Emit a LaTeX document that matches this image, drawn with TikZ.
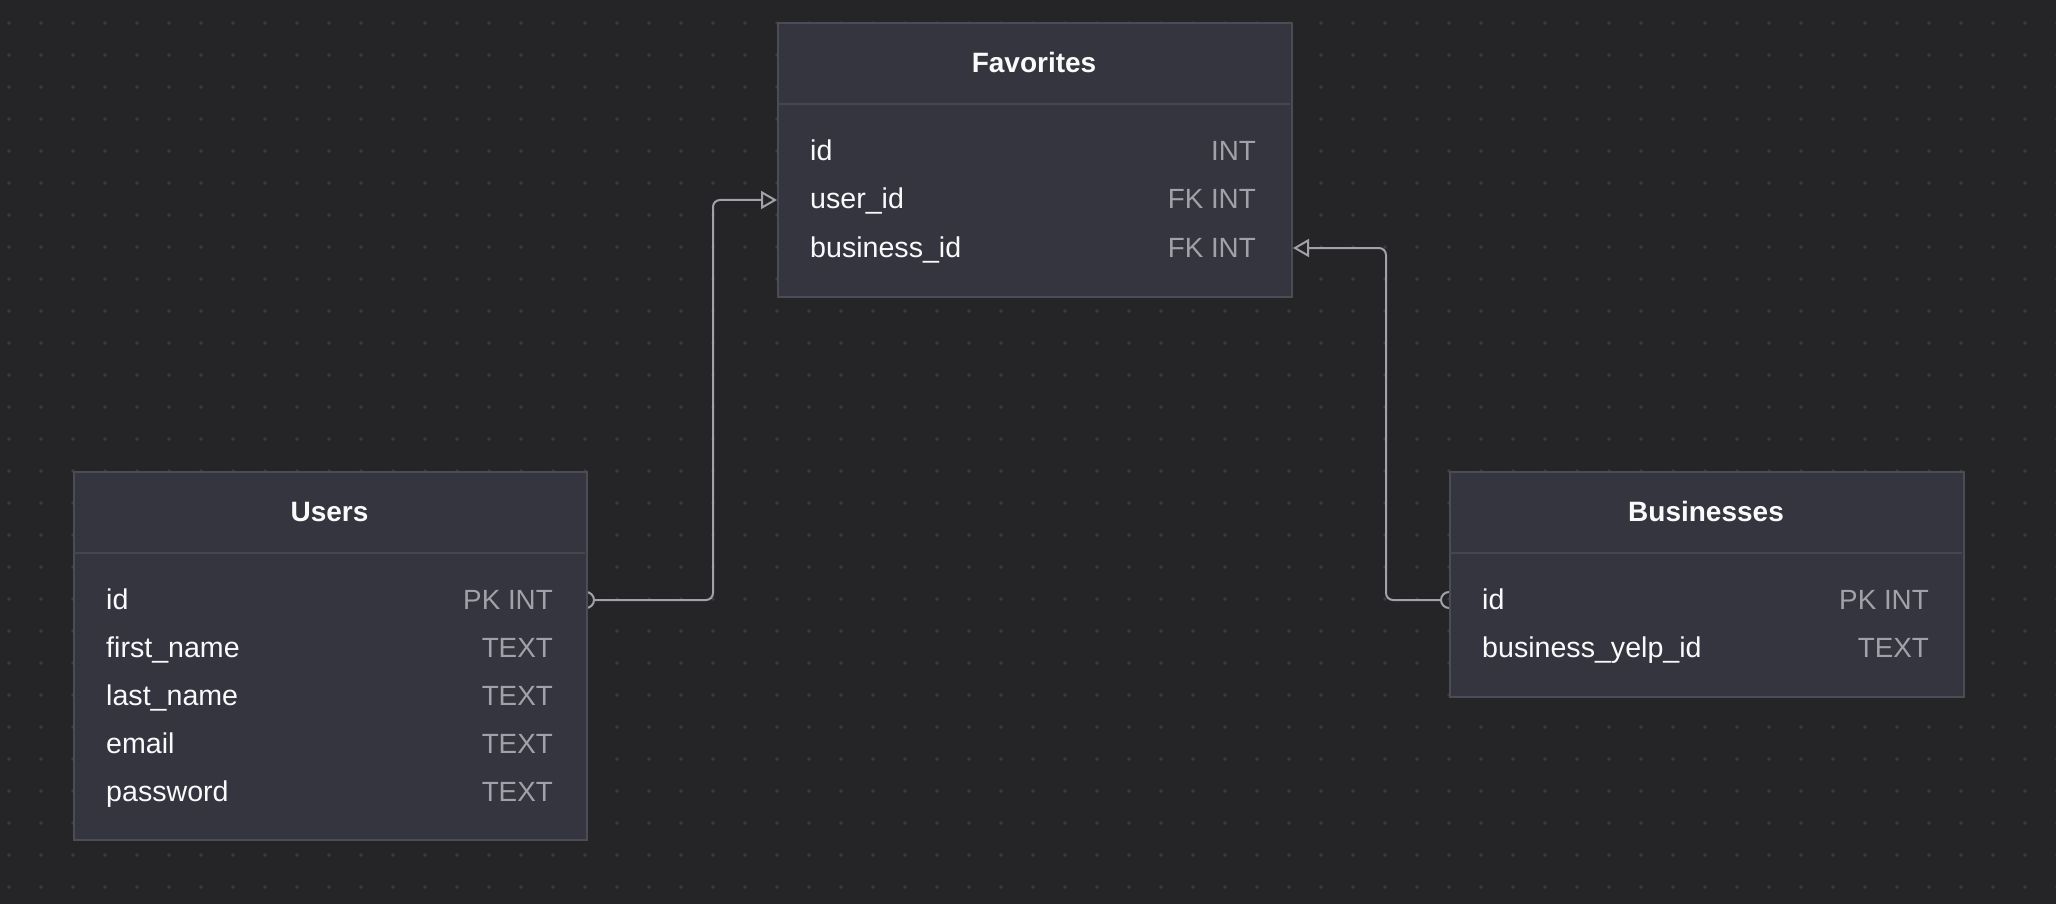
\documentclass[tikz,border=0pt]{standalone}
\usepackage{fontspec}
\setmainfont{Liberation Sans}
\usetikzlibrary{arrows.meta}
\definecolor{bg}{HTML}{252527}
\definecolor{dotc}{HTML}{3B3B45}
\definecolor{boxfill}{HTML}{35353F}
\definecolor{boxline}{HTML}{4C4C56}
\definecolor{sepline}{HTML}{46464F}
\definecolor{namec}{HTML}{FAFAFA}
\definecolor{typec}{HTML}{A1A1AA}
\definecolor{linkc}{HTML}{A1A1AA}
\begin{document}
\begin{tikzpicture}[x=1pt,y=-1pt,
  tablebox/.style={draw=boxline, line width=2pt, fill=boxfill, rectangle, inner sep=0pt, anchor=north west},
  sepl/.style={draw=sepline, line width=2pt},
  titletext/.style={text=namec, font=\fontsize{28}{34}\selectfont\bfseries, anchor=base, inner sep=0pt},
  nametext/.style={text=namec, font=\fontsize{28.6}{34}\selectfont, anchor=base west, inner sep=0pt},
  typetext/.style={text=typec, font=\fontsize{27.8}{34}\selectfont, anchor=base east, inner sep=0pt},
  link/.style={draw=linkc, line width=2pt, rounded corners=7pt},
  opentip/.style={-{Triangle[open, length=16pt, width=18pt]}},
  endcircle/.style={draw=linkc, line width=2pt}
]
\fill[bg] (0,0) rectangle (2056,904);
\useasboundingbox (0,0) rectangle (2056,904);
\foreach \i in {0,...,64}{
  \foreach \j in {0,...,28}{
    \fill[dotc] (9+32*\i, 23+32*\j) circle (1.8);
  }
}
% ports
\coordinate (uport) at (586,600);
\coordinate (bport) at (1449,600);
\draw[endcircle] (uport) circle (8);
\draw[endcircle] (bport) circle (8);

% Favorites
\node[tablebox, minimum width=514pt, minimum height=274pt] (fav) at (777,22) {};
\draw[sepl] (778,104) -- (1290,104);
\node[titletext] (favtitle) at (1034,73) {Favorites};
\node[nametext] (favid) at (810,161) {id};
\node[typetext] (favidt) at (1256,161) {INT};
\node[nametext] (favuid) at (810,209) {user\_id};
\node[typetext] (favuidt) at (1256,209) {FK INT};
\node[nametext] (favbid) at (810,257) {business\_id};
\node[typetext] (favbidt) at (1256,257) {FK INT};

% Users
\node[tablebox, minimum width=513pt, minimum height=368pt] (users) at (73,471) {};
\draw[sepl] (74,553) -- (585,553);
\node[titletext] (usertitle) at (329.5,521) {Users};
\node[nametext] (uid) at (106,609) {id};
\node[typetext] (uidt) at (553,609) {PK INT};
\node[nametext] (ufn) at (106,657) {first\_name};
\node[typetext] (ufnt) at (553,657) {TEXT};
\node[nametext] (uln) at (106,705) {last\_name};
\node[typetext] (ulnt) at (553,705) {TEXT};
\node[nametext] (uem) at (106,753) {email};
\node[typetext] (uemt) at (553,753) {TEXT};
\node[nametext] (upw) at (106,801) {password};
\node[typetext] (upwt) at (553,801) {TEXT};

% Businesses
\node[tablebox, minimum width=514pt, minimum height=225pt] (bus) at (1449,471) {};
\draw[sepl] (1450,553) -- (1962,553);
\node[titletext] (bustitle) at (1706,521) {Businesses};
\node[nametext] (bid) at (1482,609) {id};
\node[typetext] (bidt) at (1929,609) {PK INT};
\node[nametext] (byid) at (1482,657) {business\_yelp\_id};
\node[typetext] (byidt) at (1929,657) {TEXT};

% connectors
\coordinate (favl) at (fav.west |- 0,200);
\coordinate (favr) at (fav.east |- 0,248);
\draw[link, opentip] ([xshift=8pt]uport) -- (713,600) -- (713,200) -- (favl);
\draw[link, opentip] ([xshift=-8pt]bport) -- (1386,600) -- (1386,248) -- (favr);
\end{tikzpicture}
\end{document}
